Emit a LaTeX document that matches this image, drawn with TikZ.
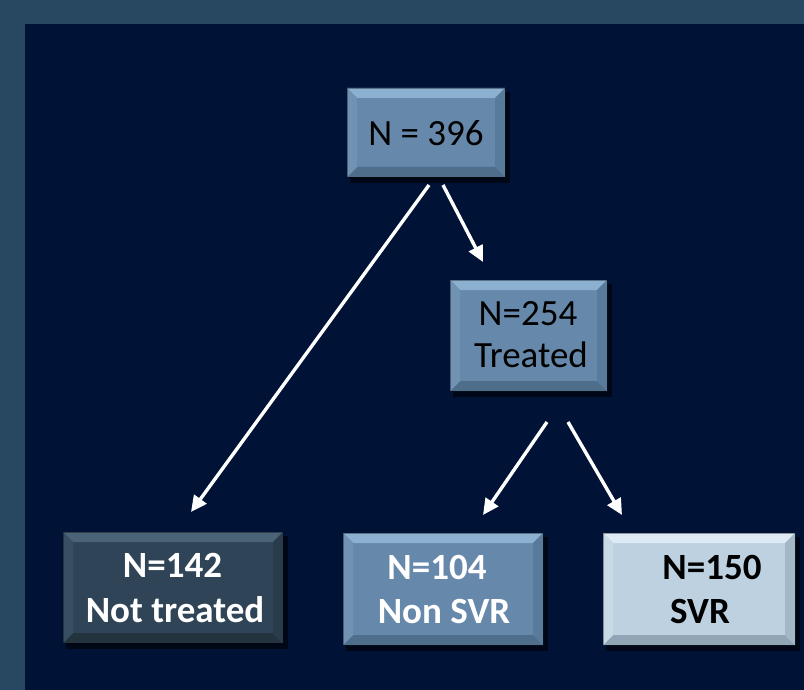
\documentclass[tikz,border=0pt]{standalone}
\usepackage{fontspec}
\setmainfont{Carlito}
\usetikzlibrary{arrows.meta}
\definecolor{outerbg}{HTML}{284862}
\definecolor{innerbg}{HTML}{001235}
\definecolor{midface}{HTML}{6689AB}
\definecolor{midtop}{HTML}{8CB0CF}
\definecolor{midbot}{HTML}{4E6E8C}
\definecolor{midleft}{HTML}{7093B4}
\definecolor{midright}{HTML}{587B9C}
\definecolor{darkface}{HTML}{2F4557}
\definecolor{darktop}{HTML}{4A6376}
\definecolor{darkbot}{HTML}{24343F}
\definecolor{darkleft}{HTML}{384F61}
\definecolor{darkright}{HTML}{2A3C4B}
\definecolor{liteface}{HTML}{BDD1E1}
\definecolor{litetop}{HTML}{DFEBF4}
\definecolor{litebot}{HTML}{90A5B6}
\definecolor{liteleft}{HTML}{C9DAE7}
\definecolor{literight}{HTML}{A3B7C7}
\tikzset{
  arr/.style={draw=white, line width=3.4pt, -{Triangle[length=16pt,width=15pt]}},
  lbl/.style={anchor=base, inner sep=0pt, font=\fontsize{37}{44}\selectfont, text=black},
  blbl/.style={anchor=base, inner sep=0pt, font=\fontsize{37}{44}\selectfont\bfseries},
}
% name, x1, y1, x2, y2, colour prefix
\newcommand\bevelbox[6]{%
  \fill[black, opacity=0.55] (#2+3,#3+4) rectangle (#4+5,#5+6);
  \fill[#6face] (#2,#3) rectangle (#4,#5);
  \fill[#6top] (#2,#3) -- (#4,#3) -- (#4-10,#3+10) -- (#2+10,#3+10) -- cycle;
  \fill[#6bot] (#2,#5) -- (#4,#5) -- (#4-10,#5-10) -- (#2+10,#5-10) -- cycle;
  \fill[#6left] (#2,#3) -- (#2+10,#3+10) -- (#2+10,#5-10) -- (#2,#5) -- cycle;
  \fill[#6right] (#4,#3) -- (#4-10,#3+10) -- (#4-10,#5-10) -- (#4,#5) -- cycle;
  \draw[black, opacity=0.35, line width=0.8pt] (#2,#3) rectangle (#4,#5);
  \coordinate (#1) at ({(#2+#4)/2},{(#3+#5)/2});
}
\begin{document}
\begin{tikzpicture}[x=1pt,y=-1pt]
\useasboundingbox (0,0) rectangle (804,690);
\fill[outerbg] (0,0) rectangle (804,690);
\fill[innerbg] (25,24) rectangle (804,690);

\bevelbox{b396}{347}{88}{505}{177}{mid}
\bevelbox{b254}{450}{280}{607}{391}{mid}
\bevelbox{b142}{63}{532}{283}{643}{dark}
\bevelbox{b104}{343}{533}{543}{645}{mid}
\bevelbox{b150}{603}{533}{795}{645}{lite}

\node[lbl] (t396) at (426,146) {N = 396};
\node[lbl] (t254a) at (528,325) {N=254};
\node[lbl] (t254b) at (531,367) {Treated};

\node[blbl, text=white] (t142a) at (172.5,577) {N=142};
\node[blbl, text=white] (t142b) at (175,622) {Not treated};
\node[blbl, text=white] (t104a) at (437,579) {N=104};
\node[blbl, text=white] (t104b) at (444,623) {Non SVR};
\node[blbl, text=black] (t150a) at (712,579) {N=150};
\node[blbl, text=black] (t150b) at (700,623) {SVR};

\coordinate (a1s) at (429,185);
\coordinate (a1e) at (191,512);
\coordinate (a2s) at (443,185);
\coordinate (a2e) at (483,262);
\coordinate (a3s) at (547,422);
\coordinate (a3e) at (483,515);
\coordinate (a4s) at (568,422);
\coordinate (a4e) at (622,515);
\draw[arr] (a1s) -- (a1e);
\draw[arr] (a2s) -- (a2e);
\draw[arr] (a3s) -- (a3e);
\draw[arr] (a4s) -- (a4e);
\end{tikzpicture}
\end{document}
